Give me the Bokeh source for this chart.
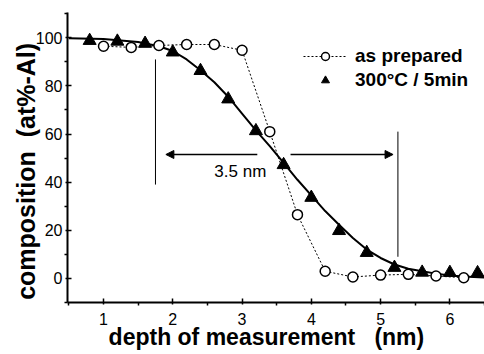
from bokeh.plotting import figure
from bokeh.models import Range1d, Legend, LegendItem, Arrow, NormalHead, Label, FixedTicker
from bokeh.embed import file_html
from bokeh.resources import INLINE

# as prepared (open circles, dotted line)
depth_prep = [1.0, 1.4, 1.8, 2.2, 2.6, 3.0, 3.4, 3.8, 4.2, 4.6, 5.0, 5.4, 5.8, 6.2]
comp_prep = [96.5, 96.0, 96.8, 97.2, 97.2, 94.8, 61.0, 26.5, 3.0, 0.6, 1.4, 1.7, 1.0, 0.3]

# 300 °C / 5 min (filled triangles)
depth_ann = [0.8, 1.2, 1.6, 2.0, 2.4, 2.8, 3.2, 3.6, 4.0, 4.4, 4.8, 5.2, 5.6, 6.0, 6.4]
comp_ann = [98.8, 98.5, 97.6, 94.0, 86.3, 74.5, 61.3, 47.2, 33.6, 19.8, 10.7, 4.5, 2.5, 2.4, 2.3]

# fitted profile through the annealed data
fit_depth = [0.5, 1.0, 1.5, 1.8, 2.0, 2.2, 2.4, 2.6, 2.8, 3.0, 3.2, 3.4, 3.6, 3.8, 4.0,
             4.2, 4.4, 4.6, 4.8, 5.0, 5.2, 5.4, 5.6, 5.8, 6.0, 6.2, 6.5]
fit_comp = [99.8, 99.5, 98.2, 96.5, 94.5, 91.0, 86.5, 81.5, 75.5, 68.5, 61.5, 55.0, 48.0, 41.0, 34.5,
            28.0, 22.3, 16.8, 12.0, 8.5, 5.8, 4.0, 3.0, 2.0, 1.2, 0.8, 0.4]

# interface width markers
bracket_x = [1.75, 5.25]
bracket_top = [91.0, 61.0]
bracket_bottom = [39.0, 9.0]
arrow_tail_x = [3.22, 3.70]
arrow_head_x = [1.90, 5.18]
arrow_y = 51.5
width_text = "3.5 nm"
width_text_pos = (2.60, 40.4)

x_ticks = [1, 2, 3, 4, 5, 6]
y_ticks = [0, 20, 40, 60, 80, 100]

NB = "\u00a0"
x_label = "depth of measurement" + NB * 3 + "(nm)" + NB * 3
y_label = "composition" + NB * 2 + "(at%-Al)" + NB * 4

p = figure(width=484, height=354, output_backend="svg", toolbar_location=None,
           x_range=Range1d(0.48, 6.5), y_range=Range1d(-10, 110.5),
           min_border_left=67, min_border_right=0, min_border_top=12, min_border_bottom=52)
p.outline_line_color = None
p.grid.visible = False
p.background_fill_color = "white"
p.border_fill_color = "white"

for ax in (p.xaxis[0], p.yaxis[0]):
    ax.axis_line_width = 2
    ax.axis_line_color = "black"
    ax.major_tick_line_width = 1.5
    ax.minor_tick_line_width = 1.5
    ax.major_tick_in = 4
    ax.major_tick_out = 2
    ax.minor_tick_in = 0
    ax.minor_tick_out = 3
    ax.major_label_text_font = "Liberation Sans"
    ax.major_label_text_font_size = "16px"
    ax.major_label_text_color = "black"
    ax.axis_label_text_font = "Liberation Sans"
    ax.axis_label_text_font_style = "bold"
    ax.axis_label_text_color = "black"

p.xaxis.ticker = FixedTicker(ticks=x_ticks, minor_ticks=[0.5 + i for i in range(7)])
p.yaxis.ticker = FixedTicker(ticks=y_ticks, minor_ticks=[-10, 10, 30, 50, 70, 90, 110])
p.xaxis.axis_label = x_label
p.yaxis.axis_label = y_label
p.xaxis.axis_label_text_font_size = "23px"
p.yaxis.axis_label_text_font_size = "25px"
p.xaxis.major_label_standoff = 7
p.xaxis.axis_label_standoff = -4
p.yaxis.major_label_standoff = 2
p.yaxis.axis_label_standoff = -7

# fit curve
p.line(fit_depth, fit_comp, line_color="black", line_width=2)

# as prepared
r_prep_line = p.line(depth_prep, comp_prep, line_color="black", line_width=1, line_dash="2 2")
r_prep = p.scatter(depth_prep, comp_prep, marker="circle", size=10, fill_color="white",
                   line_color="black", line_width=1.5)

# annealed
r_ann = p.scatter(depth_ann, comp_ann, marker="triangle", size=13, fill_color="black",
                  line_color="black", line_width=1)

# width markers
p.segment(x0=bracket_x, y0=bracket_bottom, x1=bracket_x, y1=bracket_top,
          line_color="black", line_width=1)
for tx, hx in zip(arrow_tail_x, arrow_head_x):
    p.add_layout(Arrow(x_start=tx, y_start=arrow_y, x_end=hx, y_end=arrow_y,
                       line_width=1.5, line_color="black",
                       end=NormalHead(size=8, fill_color="black", line_color="black")))
p.add_layout(Label(x=width_text_pos[0], y=width_text_pos[1], text=width_text,
                   text_font="Liberation Sans", text_font_size="17px", text_color="black"))

legend = Legend(items=[LegendItem(label="as prepared", renderers=[r_prep_line, r_prep]),
                       LegendItem(label="300°C / 5min", renderers=[r_ann])],
                location=(236, 211), orientation="vertical",
                glyph_width=44, glyph_height=20, label_height=20, label_standoff=8,
                spacing=2, padding=0, margin=0,
                border_line_color=None, background_fill_alpha=0,
                label_text_font="Liberation Sans", label_text_font_size="19px",
                label_text_font_style="bold", label_text_color="black")
p.add_layout(legend)

open("out.html", "w").write(file_html(p, INLINE))
